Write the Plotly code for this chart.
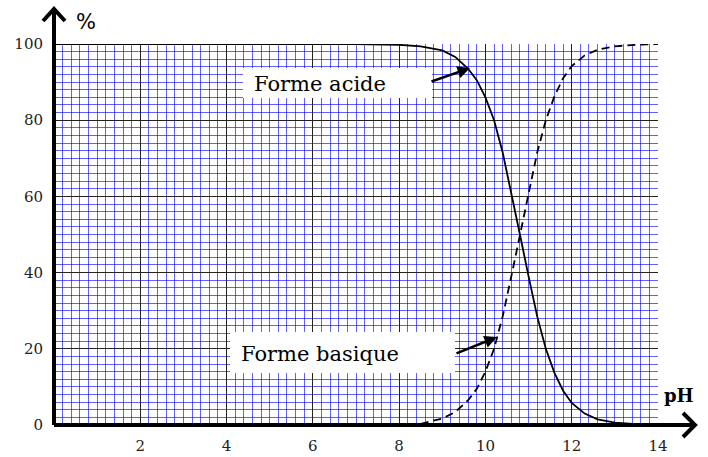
import plotly.graph_objects as go

# values
ph_acid = [0, 2, 4, 6, 7, 8, 8.5, 9, 9.3, 9.6, 9.8, 10, 10.2, 10.4, 10.6, 10.8,
           11, 11.2, 11.4, 11.6, 11.8, 12, 12.3, 12.6, 13, 13.5, 14]
acid = [100, 100, 100, 100, 100, 99.8, 99.4, 98.3, 96.6, 93.5, 90.5, 86, 80, 71.5, 61, 50,
        39, 28.5, 20, 13.7, 9, 5.8, 3, 1.5, 0.6, 0.2, 0.1]
ph_base = [8.5, 9, 9.3, 9.6, 9.8, 10, 10.2, 10.4, 10.6, 10.8, 11, 11.2, 11.4, 11.6,
           11.8, 12, 12.3, 12.6, 13, 13.5, 14]
base = [0.3, 1.7, 3.4, 6.5, 9.5, 14, 20, 28.5, 39, 50, 61, 71.5, 80, 86.3,
        91, 94.2, 97, 98.5, 99.4, 99.8, 100]
x_ticks = [2, 4, 6, 8, 10, 12, 14]
y_ticks = [0, 20, 40, 60, 80, 100]

W, H = 708, 457
L, R, T, B = 54, 50, 44, 32
PW, PH = W - L - R, H - T - B


def px(x):
    return (x - L) / PW


def py(y):
    return (H - B - y) / PH


fig = go.Figure()
fig.add_trace(go.Scatter(x=ph_acid, y=acid, mode="lines",
                         line=dict(color="black", width=1.8), name="Forme acide"))
fig.add_trace(go.Scatter(x=ph_base, y=base, mode="lines",
                         line=dict(color="black", width=1.8, dash="8px,5px"), name="Forme basique"))

serif = "DejaVu Serif"
fig.update_layout(
    width=W, height=H, margin=dict(l=L, r=R, t=T, b=B, autoexpand=False),
    paper_bgcolor="white", plot_bgcolor="white", showlegend=False,
    font=dict(family=serif, size=15, color="#222"),
    xaxis=dict(range=[0, 14], tickvals=x_ticks, showgrid=True, gridcolor="#222", gridwidth=1,
               minor=dict(dtick=0.2, showgrid=True, gridcolor="rgba(0,0,255,0.62)", gridwidth=1),
               zeroline=False, showline=False, ticks="", ticklabelstandoff=10, automargin=False,
               tickfont=dict(family=serif, size=15, color="#222")),
    yaxis=dict(range=[0, 100], tickvals=y_ticks, showgrid=True, gridcolor="#222", gridwidth=1,
               minor=dict(dtick=2, showgrid=True, gridcolor="rgba(0,0,255,0.62)", gridwidth=1),
               zeroline=False, showline=False, ticks="", ticklabelstandoff=10, automargin=False,
               tickfont=dict(family=serif, size=15, color="#222")),
)

shapes = []
# axes with arrows
shapes.append(dict(type="line", xref="paper", yref="paper", x0=0, y0=0, x1=px(695), y1=0,
                   line=dict(color="black", width=4)))
shapes.append(dict(type="line", xref="paper", yref="paper", x0=0, y0=0, x1=0, y1=py(9),
                   line=dict(color="black", width=4)))
shapes.append(dict(type="path", xref="paper", yref="paper",
                   path=f"M{px(683)},{py(413)} L{px(695)},{py(425)} L{px(683)},{py(437)}",
                   line=dict(color="black", width=4)))
shapes.append(dict(type="path", xref="paper", yref="paper",
                   path=f"M{px(43)},{py(21)} L{px(54)},{py(9)} L{px(65)},{py(21)}",
                   line=dict(color="black", width=4)))
# white label boxes
shapes.append(dict(type="rect", xref="paper", yref="paper", x0=px(243), x1=px(432),
                   y0=py(98), y1=py(68), fillcolor="white", line=dict(width=0)))
shapes.append(dict(type="rect", xref="paper", yref="paper", x0=px(230), x1=px(455),
                   y0=py(373), y1=py(332), fillcolor="white", line=dict(width=0)))
fig.update_layout(shapes=shapes)

ann = []
ann.append(dict(xref="paper", yref="paper", x=px(252), y=py(84), xanchor="left", yanchor="middle",
                text="Forme acide", showarrow=False,
                font=dict(family=serif, size=21, color="black")))
ann.append(dict(xref="paper", yref="paper", x=px(239), y=py(354), xanchor="left", yanchor="middle",
                text="Forme basique", showarrow=False,
                font=dict(family=serif, size=21, color="black")))
ann.append(dict(xref="paper", yref="paper", x=px(470), y=py(68),
                ax=430 - 470, ay=82 - 68, text="", showarrow=True, arrowhead=2, arrowsize=1,
                arrowwidth=2.5, arrowcolor="black", standoff=0))
ann.append(dict(xref="paper", yref="paper", x=px(497), y=py(337),
                ax=455 - 497, ay=354 - 337, text="", showarrow=True, arrowhead=2, arrowsize=1,
                arrowwidth=2.5, arrowcolor="black", standoff=0))
ann.append(dict(xref="paper", yref="paper", x=px(86), y=py(22), text="%", showarrow=False,
                xanchor="center", yanchor="middle",
                font=dict(family="DejaVu Sans", size=21, color="black")))
ann.append(dict(xref="paper", yref="paper", x=px(679), y=py(395), text="<b>pH</b>", showarrow=False,
                xanchor="center", yanchor="middle",
                font=dict(family=serif, size=18, color="black")))
fig.update_layout(annotations=ann)

fig.write_html("out.html", config={"displayModeBar": False},
               post_script="document.body.style.margin='0';")
